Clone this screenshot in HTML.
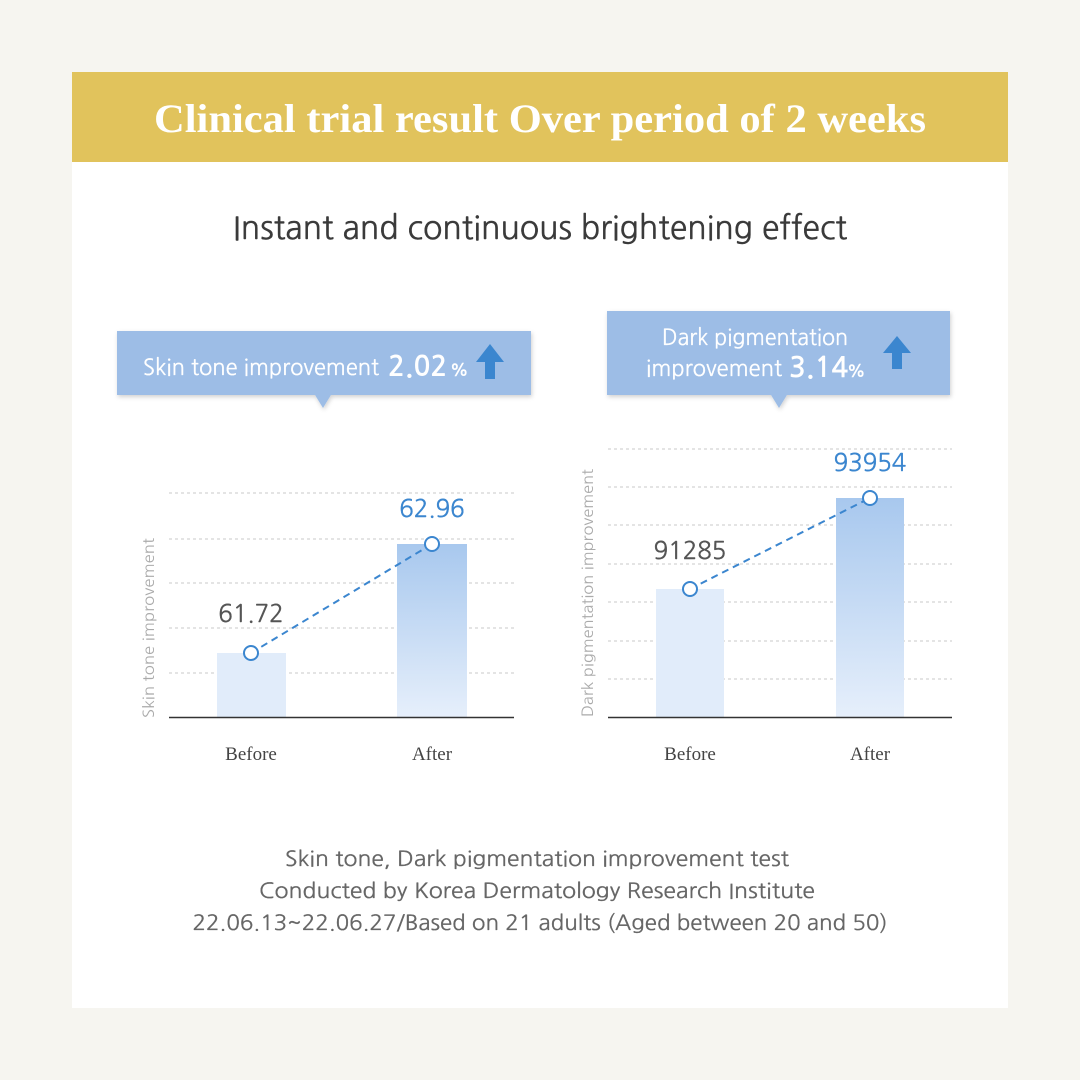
<!DOCTYPE html>
<html><head><meta charset="utf-8"><style>
html,body{margin:0;padding:0;background:#f6f5f0;}
svg{display:block;}
.s{font-family:"NanumGothic","Liberation Sans",sans-serif;}
.r{font-family:"Liberation Serif",serif;}
</style></head><body>
<svg width="1080" height="1080" viewBox="0 0 1080 1080" xmlns="http://www.w3.org/2000/svg">
<defs>
<linearGradient id="g" x1="0" y1="0" x2="0" y2="1"><stop offset="0" stop-color="#a8c8ee"/><stop offset="1" stop-color="#e6effb"/></linearGradient>
<filter id="sh" x="-5%" y="-10%" width="110%" height="130%"><feDropShadow dx="1" dy="2" stdDeviation="2" flood-color="#000" flood-opacity="0.18"/></filter>
</defs>
<rect x="0" y="0" width="1080" height="1080" fill="#f6f5f0"/>
<rect x="72" y="72" width="936" height="936" fill="#fff"/>
<rect x="72" y="72" width="936" height="90" fill="#e1c35c"/>
<text x="540" y="132" text-anchor="middle" class="r" font-size="40" font-weight="bold" fill="#fff" textLength="772" lengthAdjust="spacingAndGlyphs">Clinical trial result Over period of 2 weeks</text>
<text x="540" y="239" text-anchor="middle" class="s" font-size="32" fill="#3a3a3a" stroke="#3a3a3a" stroke-width="0.4" textLength="614" lengthAdjust="spacingAndGlyphs">Instant and continuous brightening effect</text>

<!-- left callout -->
<g filter="url(#sh)"><rect x="117" y="331" width="414" height="64" fill="#9dbde6"/><polygon points="315,395 331,395 323,408" fill="#9dbde6"/></g>
<text x="143" y="375" class="s" font-size="22" fill="#fff" stroke="#fff" stroke-width="0.3" textLength="236" lengthAdjust="spacingAndGlyphs">Skin tone improvement</text>
<text x="388" y="376" class="s" font-size="28" font-weight="bold" fill="#fff">2.02</text>
<text x="450" y="376" class="s" font-size="17" font-weight="bold" fill="#fff">%</text>
<polygon points="490,344 504,362 495,362 495,379 485,379 485,362 476,362" fill="#3b86cf"/>

<!-- left chart -->
<g stroke="#c8c8c8" stroke-width="1" stroke-dasharray="3,3">
<line x1="169" y1="493" x2="514" y2="493"/><line x1="169" y1="539" x2="514" y2="539"/><line x1="169" y1="583" x2="514" y2="583"/><line x1="169" y1="628" x2="514" y2="628"/><line x1="169" y1="673" x2="514" y2="673"/>
</g>
<rect x="217" y="653" width="69" height="64" fill="#e1ecfa"/>
<rect x="397" y="544" width="70" height="173" fill="url(#g)"/>
<line x1="169" y1="717.5" x2="514" y2="717.5" stroke="#333" stroke-width="1.5"/>
<line x1="251" y1="653" x2="432" y2="544" stroke="#3b86cf" stroke-width="2" stroke-dasharray="7,5"/>
<circle cx="251" cy="653" r="7" fill="#fff" stroke="#3b86cf" stroke-width="2"/>
<circle cx="432" cy="544" r="7" fill="#fff" stroke="#3b86cf" stroke-width="2"/>
<text x="251" y="622" text-anchor="middle" class="s" font-size="24" fill="#555" stroke="#555" stroke-width="0.4">61.72</text>
<text x="432" y="517" text-anchor="middle" class="s" font-size="24" fill="#3b86cf" stroke="#3b86cf" stroke-width="0.4">62.96</text>
<text x="251" y="760" text-anchor="middle" class="r" font-size="19" fill="#444">Before</text>
<text x="432" y="760" text-anchor="middle" class="r" font-size="19" fill="#444">After</text>
<text transform="translate(154,628) rotate(-90)" text-anchor="middle" class="s" font-size="15" fill="#aaa" textLength="180" lengthAdjust="spacingAndGlyphs">Skin tone improvement</text>

<!-- right callout -->
<g filter="url(#sh)"><rect x="607" y="311" width="343" height="84" fill="#9dbde6"/><polygon points="771,395 787,395 779,408" fill="#9dbde6"/></g>
<text x="755" y="345" text-anchor="middle" class="s" font-size="22" fill="#fff" stroke="#fff" stroke-width="0.3" textLength="186" lengthAdjust="spacingAndGlyphs">Dark pigmentation</text>
<text x="646" y="376" class="s" font-size="22" fill="#fff" stroke="#fff" stroke-width="0.3" textLength="136" lengthAdjust="spacingAndGlyphs">improvement</text>
<text x="789" y="377" class="s" font-size="28" font-weight="bold" fill="#fff">3.14</text>
<text x="847" y="377" class="s" font-size="17" font-weight="bold" fill="#fff">%</text>
<polygon points="897,336 911,353 902,353 902,369 892,369 892,353 883,353" fill="#3b86cf"/>

<!-- right chart -->
<g stroke="#c8c8c8" stroke-width="1" stroke-dasharray="3,3">
<line x1="608" y1="449" x2="952" y2="449"/><line x1="608" y1="487" x2="952" y2="487"/><line x1="608" y1="525" x2="952" y2="525"/><line x1="608" y1="564" x2="952" y2="564"/><line x1="608" y1="602" x2="952" y2="602"/><line x1="608" y1="641" x2="952" y2="641"/><line x1="608" y1="679" x2="952" y2="679"/>
</g>
<rect x="656" y="589" width="68" height="128" fill="#e1ecfa"/>
<rect x="836" y="498" width="68" height="219" fill="url(#g)"/>
<line x1="608" y1="717.5" x2="952" y2="717.5" stroke="#333" stroke-width="1.5"/>
<line x1="690" y1="589" x2="870" y2="498" stroke="#3b86cf" stroke-width="2" stroke-dasharray="7,5"/>
<circle cx="690" cy="589" r="7" fill="#fff" stroke="#3b86cf" stroke-width="2"/>
<circle cx="870" cy="498" r="7" fill="#fff" stroke="#3b86cf" stroke-width="2"/>
<text x="690" y="559" text-anchor="middle" class="s" font-size="24" fill="#555" stroke="#555" stroke-width="0.4">91285</text>
<text x="870" y="471" text-anchor="middle" class="s" font-size="24" fill="#3b86cf" stroke="#3b86cf" stroke-width="0.4">93954</text>
<text x="690" y="760" text-anchor="middle" class="r" font-size="19" fill="#444">Before</text>
<text x="870" y="760" text-anchor="middle" class="r" font-size="19" fill="#444">After</text>
<text transform="translate(593,593) rotate(-90)" text-anchor="middle" class="s" font-size="15" fill="#aaa" textLength="248" lengthAdjust="spacingAndGlyphs">Dark pigmentation improvement</text>

<!-- footer -->
<text x="537" y="866" text-anchor="middle" class="s" font-size="21" fill="#666" stroke="#666" stroke-width="0.3" textLength="504" lengthAdjust="spacingAndGlyphs">Skin tone, Dark pigmentation improvement test</text>
<text x="537" y="898" text-anchor="middle" class="s" font-size="21" fill="#666" stroke="#666" stroke-width="0.3" textLength="556" lengthAdjust="spacingAndGlyphs">Conducted by Korea Dermatology Research Institute</text>
<text x="540" y="930" text-anchor="middle" class="s" font-size="21" fill="#666" stroke="#666" stroke-width="0.3" textLength="695" lengthAdjust="spacingAndGlyphs">22.06.13~22.06.27/Based on 21 adults (Aged between 20 and 50)</text>
</svg>
</body></html>
